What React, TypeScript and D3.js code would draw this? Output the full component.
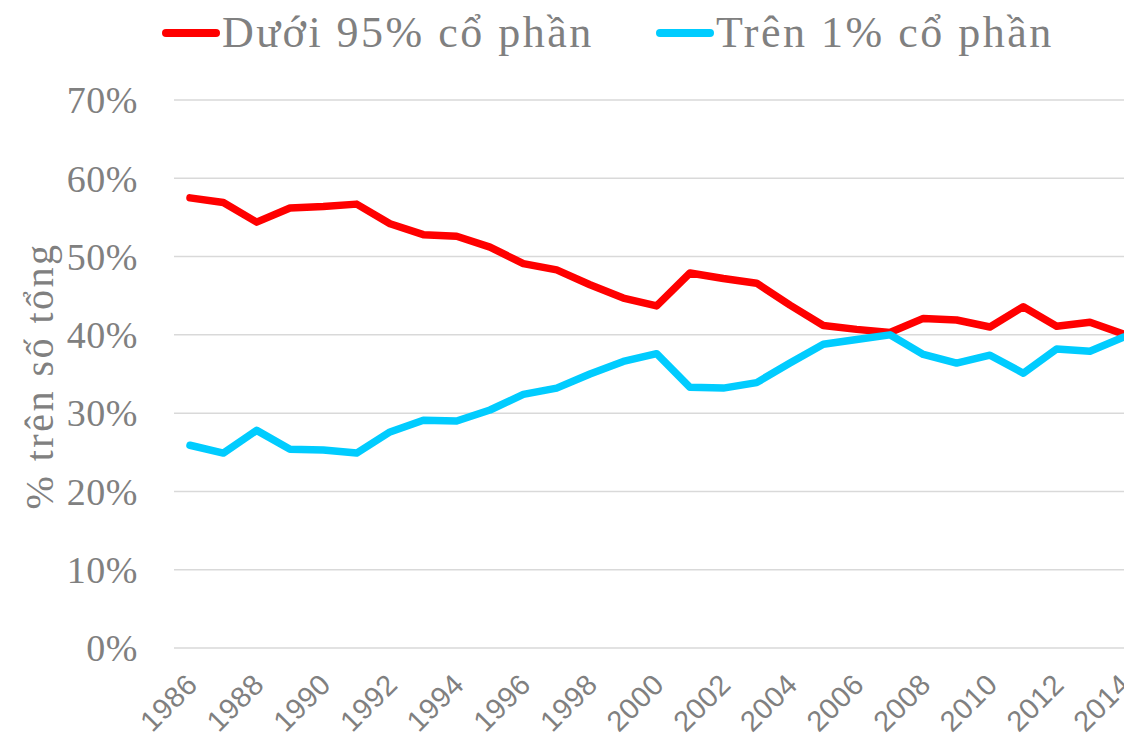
import React from "react";
import * as d3 from "d3";

const years: number[] = [1986,1987,1988,1989,1990,1991,1992,1993,1994,1995,1996,1997,1998,1999,2000,2001,2002,2003,2004,2005,2006,2007,2008,2009,2010,2011,2012,2013,2014];
const bottom95: number[] = [57.5,56.9,54.4,56.2,56.4,56.7,54.2,52.8,52.6,51.2,49.1,48.3,46.4,44.7,43.7,47.9,47.2,46.6,43.8,41.2,40.7,40.3,42.1,41.9,41.0,43.6,41.1,41.6,40.1];
const top1: number[] = [25.9,24.9,27.8,25.4,25.3,24.9,27.6,29.1,29.0,30.4,32.4,33.2,35.0,36.6,37.6,33.3,33.2,33.9,36.4,38.8,39.4,40.0,37.5,36.4,37.4,35.1,38.2,37.9,39.7];
const yTicks: number[] = [0,10,20,30,40,50,60,70];
const xTickYears: number[] = [1986,1988,1990,1992,1994,1996,1998,2000,2002,2004,2006,2008,2010,2012,2014];
const seriesNames: string[] = ["Dưới 95% cổ phần", "Trên 1% cổ phần"];
const seriesColors: string[] = ["#FF0000", "#00CCFF"];
const yTitle = "% trên số tổng";

export default function App() {
  const W = 1124, H = 739;
  const x = d3.scaleLinear().domain([1986, 2014]).range([190, 1123.3]);
  const y = d3.scaleLinear().domain([0, 70]).range([648, 100]);
  const line = d3.line<number>().x((_, i) => x(years[i])).y((d) => y(d));
  const serif = "'Liberation Serif', 'Times New Roman', serif";
  const sans = "'Liberation Sans', Arial, sans-serif";
  const gray = "#808080";
  const series = [bottom95, top1];
  const legendPos = [{ lx: 166, tx: 222 }, { lx: 660, tx: 716 }];

  return (
    <svg width={W} height={H} style={{ position: "absolute", left: 0, top: 0, background: "#fff" }}>
      {yTicks.map((t) => (
        <g key={t}>
          <line x1={174} x2={W} y1={y(t)} y2={y(t)} stroke="#d9d9d9" strokeWidth={1.5} />
          <text x={138} y={y(t)} dy="0.35em" textAnchor="end" fill={gray} fontFamily={serif} fontSize={38} letterSpacing={0.5}>
            {t}%
          </text>
        </g>
      ))}
      <text
        transform={`translate(53,${376}) rotate(-90)`}
        textAnchor="middle"
        fill={gray}
        fontFamily={serif}
        fontSize={40}
        letterSpacing={2.5}
      >
        {yTitle}
      </text>
      {xTickYears.map((yr) => (
        <text
          key={yr}
          transform={`translate(${x(yr) + 2},${679}) rotate(-45)`}
          textAnchor="end"
          dy="0.35em"
          fill={gray}
          fontFamily={sans}
          fontSize={29}
          letterSpacing={0.5}
        >
          {yr}
        </text>
      ))}
      {series.map((s, i) => (
        <path
          key={i}
          d={line(s) || ""}
          fill="none"
          stroke={seriesColors[i]}
          strokeWidth={7.5}
          strokeLinejoin="round"
          strokeLinecap="round"
        />
      ))}
      {seriesNames.map((n, i) => (
        <g key={n}>
          <line x1={legendPos[i].lx} x2={legendPos[i].lx + 50} y1={33} y2={33} stroke={seriesColors[i]} strokeWidth={8} strokeLinecap="round" />
          <text x={legendPos[i].tx} y={47} fill={gray} fontFamily={serif} fontSize={44} letterSpacing={2.5}>
            {n}
          </text>
        </g>
      ))}
    </svg>
  );
}
